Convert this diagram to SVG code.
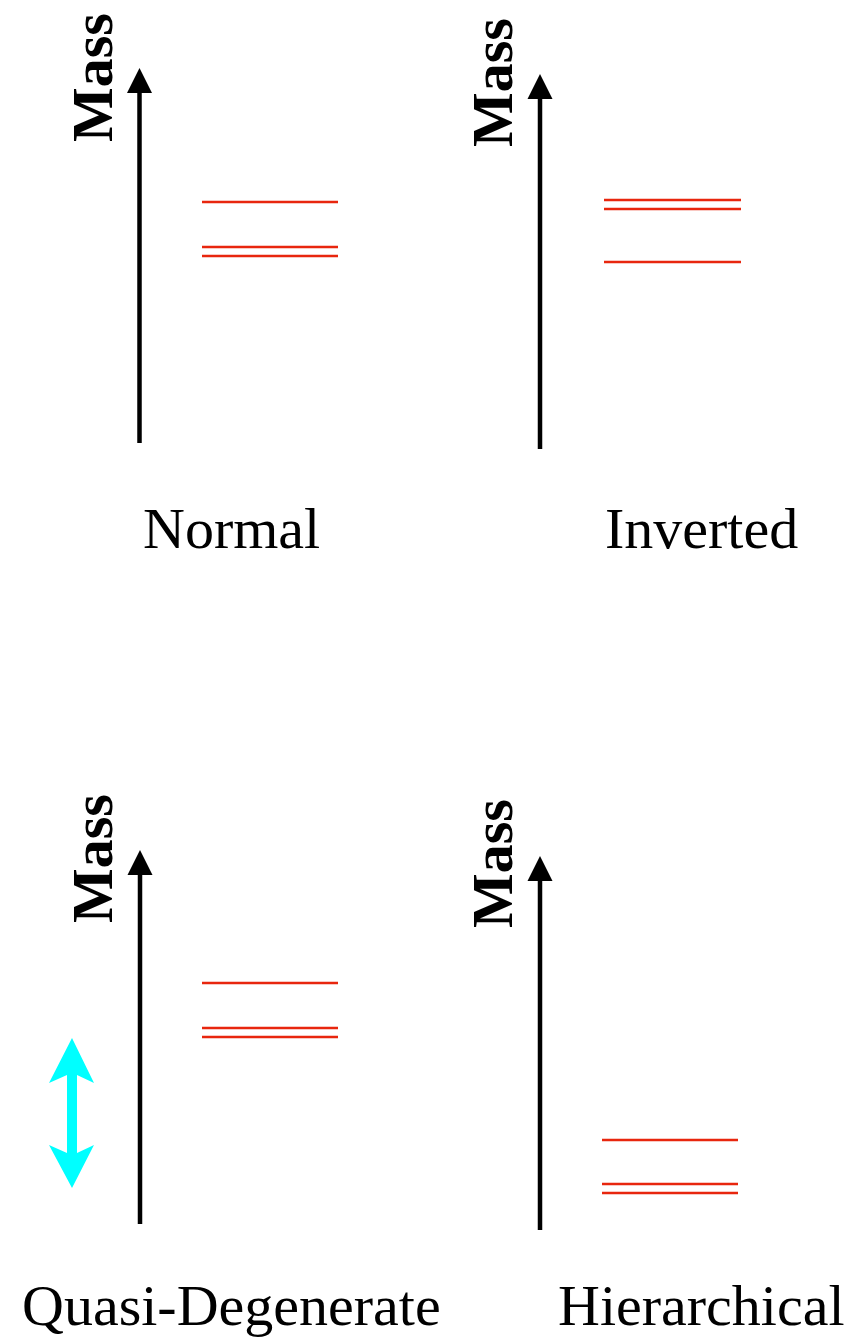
<svg xmlns="http://www.w3.org/2000/svg" width="855" height="1339" viewBox="0 0 855 1339">
<defs>
<style>
.axis{stroke:#000;stroke-width:4.5;fill:none}
.head{fill:#000}
.lvl{stroke:#e8260e;stroke-width:2.5}
.mass{font-family:"Liberation Serif","Times New Roman",serif;font-weight:bold;font-size:58px;fill:#000}
.lbl{font-family:"Liberation Serif","Times New Roman",serif;font-size:58px;fill:#000}
</style>
</defs>
<rect width="855" height="1339" fill="#fff"/>
<g id="normal">
<text class="mass" transform="translate(112,142) rotate(-90)">Mass</text>
<line class="axis" x1="139.5" y1="443" x2="139.5" y2="90"/>
<polygon class="head" points="139.5,68 127,93 152,93"/>
<line class="lvl" x1="202" y1="202" x2="338" y2="202"/>
<line class="lvl" x1="202" y1="247" x2="338" y2="247"/>
<line class="lvl" x1="202" y1="256" x2="338" y2="256"/>
<text class="lbl" x="143" y="548">Normal</text>
</g>
<g id="inverted">
<text class="mass" transform="translate(512,147) rotate(-90)">Mass</text>
<line class="axis" x1="540" y1="449" x2="540" y2="96"/>
<polygon class="head" points="540,74 527.5,99 552.5,99"/>
<line class="lvl" x1="604" y1="200" x2="741" y2="200"/>
<line class="lvl" x1="604" y1="209" x2="741" y2="209"/>
<line class="lvl" x1="604" y1="262" x2="741" y2="262"/>
<text class="lbl" x="605" y="548">Inverted</text>
</g>
<g id="quasi-degenerate">
<text class="mass" transform="translate(112,923) rotate(-90)">Mass</text>
<line class="axis" x1="140" y1="1224" x2="140" y2="872"/>
<polygon class="head" points="140,850 127.5,875 152.5,875"/>
<line class="lvl" x1="202" y1="983" x2="338" y2="983"/>
<line class="lvl" x1="202" y1="1028" x2="338" y2="1028"/>
<line class="lvl" x1="202" y1="1037" x2="338" y2="1037"/>
<polygon fill="#00ffff" points="72,1038 94,1083 77,1075 77,1153 94,1145 72,1188 49,1145 67,1153 67,1075 49,1083"/>
<text class="lbl" x="22" y="1325">Quasi-Degenerate</text>
</g>
<g id="hierarchical">
<text class="mass" transform="translate(512,928) rotate(-90)">Mass</text>
<line class="axis" x1="540" y1="1230" x2="540" y2="878"/>
<polygon class="head" points="540,856 527.5,881 552.5,881"/>
<line class="lvl" x1="602" y1="1140" x2="738" y2="1140"/>
<line class="lvl" x1="602" y1="1184" x2="738" y2="1184"/>
<line class="lvl" x1="602" y1="1193" x2="738" y2="1193"/>
<text class="lbl" x="558" y="1325">Hierarchical</text>
</g>
<g id="connectors"/>
</svg>
